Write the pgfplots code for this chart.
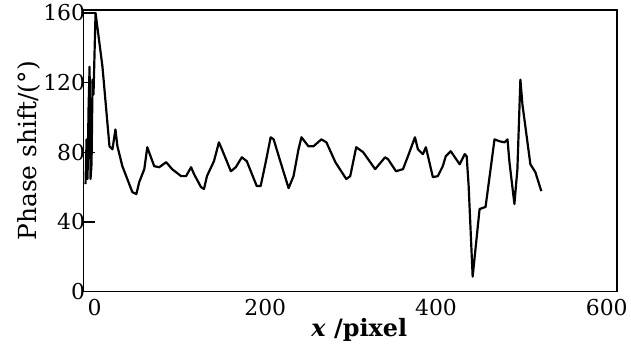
\documentclass[border=0pt]{standalone}
\usepackage{pgfplots}
\pgfplotsset{compat=1.18}
\usepackage{fontspec}
\setmainfont{DejaVu Serif}
\begin{document}
\begin{tikzpicture}
\begin{axis}[
  scale only axis,
  width=536pt, height=283pt,
  xmin=-12.8, xmax=612, ymin=0, ymax=161.7,
  xtick={0,200,400,600},
  ytick={0,40,80,120,160},
  xtick pos=bottom, ytick pos=left,
  tick align=inside,
  x tick style={draw=none},
  y tick style={line width=1.2pt, black},
  major tick length=11pt,
  axis line style={line width=1.6pt},
  /pgf/number format/assume math mode=true,
  tick label style={font=\fontsize{22}{26}\selectfont},
  xticklabel style={yshift=-4pt},
  yticklabel style={xshift=5pt},
  xlabel={\textbf{\textit{x} /pixel}},
  ylabel={Phase shift/(°)},
  xlabel style={font=\fontsize{24}{28}\selectfont, yshift=4pt, xshift=9pt},
  ylabel style={font=\fontsize{25}{29}\selectfont, at={(axis description cs:-0.074,0.5)}, anchor=south},
]
\addplot[black, line width=2.2pt, line join=round] coordinates {
(-10.5,61.7) (-9.3,87.4) (-8.2,64.6) (-7.0,104.6) (-5.8,129.1) (-4.7,64.6)
(-3.5,73.1) (-2.3,121.7) (-1.2,113.1) (1.2,160) (9.3,129.1) (17.5,83.4)
(21.0,81.7) (24.5,93.1) (26.8,83.4) (32.6,72) (44.3,57.1) (49.0,56)
(52.4,62.9) (58.3,70.3) (61.8,82.9) (69.9,72) (75.8,71.4) (83.9,74.3)
(90.9,70.3) (101.4,66.3) (107.2,66.3) (113.1,71.4) (116.6,67.4) (124.7,60)
(128.2,58.9) (131.7,66.3) (139.9,74.9) (145.7,85.7) (149.2,81.7) (159.7,69.1)
(165.5,71.4) (172.5,77.1) (178.3,74.9) (190.0,60.6) (194.6,60.6) (200.5,74.3)
(206.3,88.6) (209.8,87.4) (217.9,74.3) (227.3,59.4) (233.1,66.3) (238.9,81.7)
(242.4,88.6) (250.6,83.4) (256.4,83.4) (265.7,87.4) (271.6,85.7) (282.1,74.3)
(294.9,64.6) (299.5,66.3) (306.5,82.9) (314.7,80) (328.7,70.3) (340.3,77.1)
(343.8,76) (353.1,69.1) (361.3,70.3) (367.1,77.7) (375.3,88.6) (378.8,81.7)
(384.6,78.9) (388.1,82.9) (396.3,65.7) (402.1,66.3) (407.9,72) (411.4,77.7)
(417.2,80.6) (427.7,73.1) (433.6,78.9) (435.9,77.7) (438.2,60.6) (442.9,8.6)
(451.0,47.4) (458.0,48.6) (468.5,87.4) (474.4,86.3) (480.2,85.7) (483.7,87.4)
(486.0,74.3) (491.8,50.3) (495.3,70.3) (498.8,121.7) (501.2,107.4) (510.5,73.1)
(516.3,68.6) (523.3,57.7)
};
\end{axis}
\path ([shift={(-84pt,-53pt)}]current axis.south west) rectangle ([shift={(11pt,10pt)}]current axis.north east);
\end{tikzpicture}
\end{document}
